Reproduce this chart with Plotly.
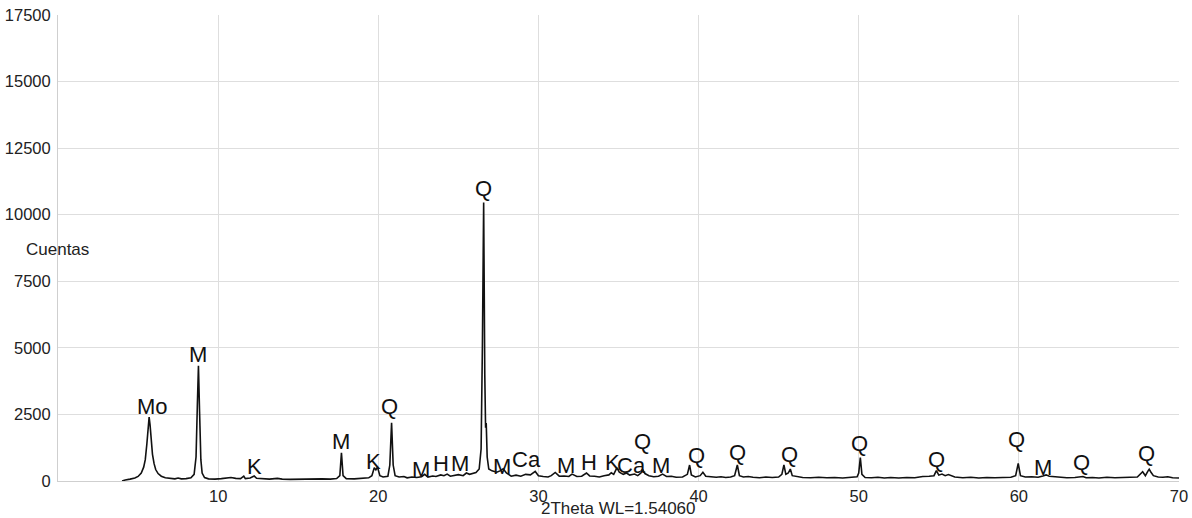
import plotly.graph_objects as go

# Diffractogram trace (2theta in degrees, counts)
two_theta = [
    4.0, 4.2, 4.5, 4.8, 5.0, 5.2, 5.35, 5.45, 5.55, 5.62, 5.69, 5.75, 5.82, 5.9, 6.0, 6.1, 6.25, 6.45, 6.7, 7.0,
    7.3, 7.5, 7.7, 8.0, 8.3, 8.5, 8.62, 8.7, 8.77, 8.84, 8.92, 9.0, 9.15, 9.4, 9.8, 10.2, 10.5, 10.8, 11.1, 11.4,
    11.6, 11.7, 12.0, 12.25, 12.4, 12.8, 13.2, 13.7, 14.0, 14.5, 15.0, 15.5, 16.0, 16.5, 17.0, 17.4, 17.6, 17.7, 17.8, 18.0,
    18.5, 19.0, 19.4, 19.6, 19.75, 19.85, 19.95, 20.1, 20.3, 20.6, 20.72, 20.83, 20.93, 21.05, 21.3, 21.6, 21.8, 22.1, 22.4, 22.7,
    22.9, 23.1, 23.4, 23.6, 23.9, 24.1, 24.3, 24.5, 24.8, 25.0, 25.3, 25.5, 25.7, 25.9, 26.1, 26.3, 26.42, 26.5, 26.58, 26.65,
    26.7, 26.74, 26.8, 26.9, 27.1, 27.4, 27.6, 27.8, 28.0, 28.3, 28.6, 28.9, 29.2, 29.5, 29.8, 30.0, 30.3, 30.6, 30.8, 31.05,
    31.3, 31.6, 31.9, 32.1, 32.4, 32.7, 33.0, 33.2, 33.5, 33.8, 34.1, 34.4, 34.55, 34.7, 34.9, 35.05, 35.3, 35.5, 35.7, 36.0,
    36.2, 36.4, 36.5, 36.65, 36.9, 37.2, 37.5, 37.75, 38.0, 38.3, 38.6, 39.0, 39.3, 39.44, 39.55, 39.8, 40.1, 40.27, 40.45, 40.8,
    41.1, 41.4, 41.7, 42.0, 42.25, 42.42, 42.55, 42.8, 43.1, 43.4, 43.8, 44.2, 44.6, 45.0, 45.2, 45.33, 45.45, 45.6, 45.73, 45.85,
    46.1, 46.5, 47.0, 47.5, 48.0, 48.5, 49.0, 49.5, 49.9, 50.0, 50.1, 50.2, 50.4, 50.8, 51.2, 51.6, 52.0, 52.5, 53.0, 53.5,
    54.0, 54.4, 54.7, 54.85, 55.0, 55.2, 55.4, 55.6, 55.8, 56.0, 56.5, 57.0, 57.5, 58.0, 58.5, 59.0, 59.5, 59.8, 59.96, 60.1,
    60.4, 60.8, 61.2, 61.5, 61.7, 61.9, 62.2, 62.6, 63.0, 63.5, 63.9, 64.0, 64.2, 64.6, 65.0, 65.5, 66.0, 66.5, 67.0, 67.4,
    67.73, 67.9, 68.05, 68.14, 68.25, 68.4, 68.7, 69.0, 69.3, 69.6, 70.0,
]
counts = [
    0, 40, 70, 110, 170, 300, 520, 800, 1400, 2000, 2400, 2100, 1500, 1000, 650, 430, 280, 180, 120, 90,
    80, 110, 80, 90, 120, 250, 900, 2800, 4330, 2600, 800, 300, 130, 80, 70, 90, 110, 130, 100, 90,
    180, 90, 110, 190, 100, 80, 70, 100, 70, 60, 70, 60, 70, 80, 70, 90, 200, 1060, 200, 90,
    80, 90, 120, 200, 500, 420, 520, 200, 150, 180, 600, 2190, 600, 200, 150, 170, 120, 150, 130, 160,
    250, 150, 190, 170, 230, 200, 260, 180, 220, 240, 200, 300, 250, 280, 320, 450, 1200, 5000, 10460, 4000,
    2000, 2180, 900, 450, 380, 330, 380, 460, 300, 180, 220, 180, 250, 230, 360, 200, 170, 150, 200, 320,
    180, 190, 170, 260, 170, 180, 300, 190, 180, 150, 200, 230, 310, 250, 490, 330, 250, 300, 220, 260,
    200, 300, 440, 280, 200, 160, 180, 260, 170, 180, 140, 150, 250, 600, 230, 150, 200, 330, 180, 170,
    140, 160, 130, 150, 200, 600, 200, 150, 170, 140, 120, 150, 130, 150, 250, 600, 250, 300, 450, 200,
    170, 130, 120, 140, 120, 130, 110, 140, 160, 300, 880, 250, 130, 120, 140, 110, 130, 110, 130, 120,
    170, 180, 200, 390, 220, 260, 200, 240, 200, 150, 120, 140, 110, 130, 120, 130, 140, 200, 660, 200,
    150, 160, 140, 190, 230, 180, 160, 130, 120, 130, 150, 170, 120, 130, 110, 140, 120, 130, 130, 150,
    350, 200, 360, 440, 330, 200, 150, 140, 160, 120, 110,
]

# Phase labels: text, 2theta position, height (counts) of label centre
label_text = ["Mo", "M", "K", "M", "K", "Q", "M", "H", "M", "Q", "M", "Ca", "M", "H", "K", "Ca", "Q", "M",
              "Q", "Q", "Q", "Q", "Q", "Q", "M", "Q", "Q"]
label_x = [5.9, 8.75, 12.25, 17.67, 19.7, 20.73, 22.67, 23.9, 25.12, 26.6, 27.73, 29.27, 31.73, 33.15, 34.6, 35.8, 36.48, 37.67,
           39.9, 42.4, 45.7, 50.06, 54.85, 59.85, 61.52, 63.92, 67.98]
label_y = [2790, 4740, 530, 1480, 750, 2800, 440, 640, 640, 11000, 560, 790, 600, 690, 690, 600, 1500, 600,
           940, 1070, 980, 1390, 820, 1570, 520, 690, 1040]

x_ticks = [10, 20, 30, 40, 50, 60, 70]
y_ticks = [0, 2500, 5000, 7500, 10000, 12500, 15000, 17500]

FONT = "Liberation Sans, Arial, sans-serif"
GRID = "#dedede"

fig = go.Figure()
fig.add_trace(go.Scatter(x=two_theta, y=counts, mode="lines",
                         line=dict(color="#111111", width=1.6), hoverinfo="skip", showlegend=False))

for t, xv, yv in zip(label_text, label_x, label_y):
    fig.add_annotation(x=xv, y=yv, text=t, showarrow=False, xanchor="center", yanchor="middle",
                       font=dict(family=FONT, size=22, color="#111111"))

fig.add_annotation(x=0, y=8700, xref="paper", yref="y", text="Cuentas", showarrow=False,
                   xanchor="center", yanchor="middle", xshift=-1,
                   font=dict(family=FONT, size=17, color="#222222"))

fig.add_annotation(x=0.5, y=-0.06, xref="paper", yref="paper", text="2Theta WL=1.54060", showarrow=False,
                   xanchor="center", yanchor="middle",
                   font=dict(family=FONT, size=17, color="#222222"))

fig.update_layout(
    width=1192, height=518,
    margin=dict(l=58, r=13, t=15, b=37, pad=0),
    paper_bgcolor="white", plot_bgcolor="white",
    font=dict(family=FONT, size=17, color="#222222"),
    xaxis=dict(range=[0, 70], tickvals=x_ticks, ticktext=[str(v) for v in x_ticks],
               showgrid=True, gridcolor=GRID, gridwidth=1, zeroline=False, automargin=False,
               showline=True, linecolor="#cfcfcf", linewidth=1, ticks="", ticklabelstandoff=0,
               ticklabeloverflow="allow", tickfont=dict(size=16.5)),
    yaxis=dict(range=[0, 17500], tickvals=y_ticks, ticktext=[str(v) for v in y_ticks],
               showgrid=True, gridcolor=GRID, gridwidth=1, zeroline=False, automargin=False,
               showline=True, linecolor="#cfcfcf", linewidth=1, ticks="", ticklabelstandoff=3,
               ticklabeloverflow="allow", tickfont=dict(size=16.5)),
)

# remove the default page margin so the figure sits at the window's top-left corner
fig.write_html("out.html", config={"displayModeBar": False},
               post_script="document.body.style.margin='0';document.body.style.overflow='hidden';")
